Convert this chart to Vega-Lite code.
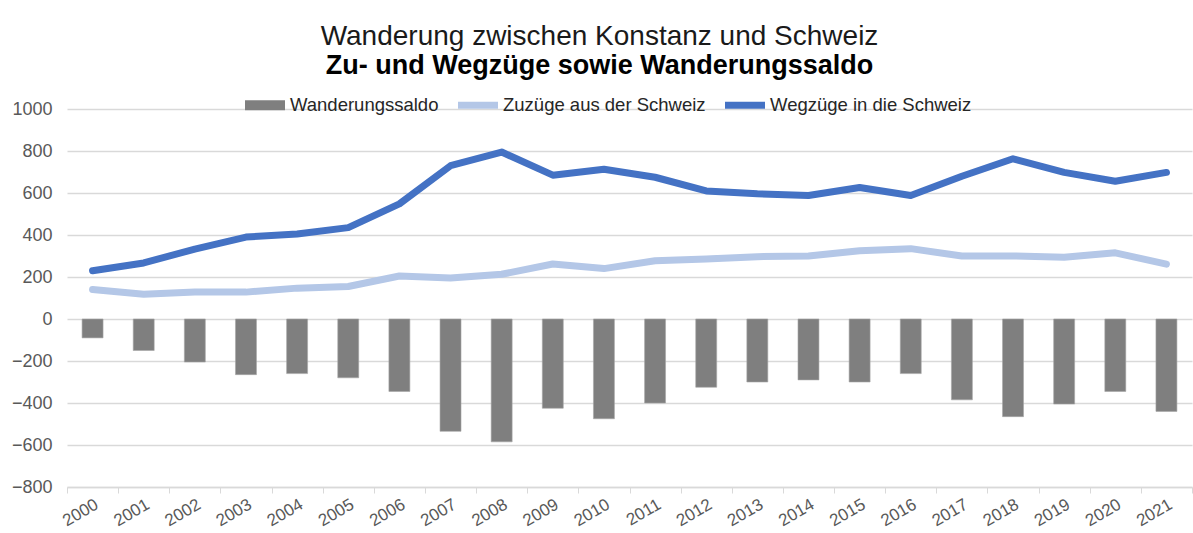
{
  "$schema": "https://vega.github.io/schema/vega-lite/v6.json",
  "width": 1125,
  "height": 378,
  "autosize": "none",
  "padding": {"left": 67, "top": 109, "right": 1, "bottom": 46},
  "background": "white",
  "config": {
    "font": "Liberation Sans",
    "view": {"stroke": null},
    "axis": {"labelFont": "Liberation Sans", "labelColor": "#595959", "labelFontSize": 18, "gridColor": "#d9d9d9", "gridWidth": 1.3, "domainColor": "#d9d9d9", "tickColor": "#d9d9d9", "title": null}
  },
  "title": {
    "text": "Wanderung zwischen Konstanz und Schweiz",
    "subtitle": "Zu- und Wegzüge sowie Wanderungssaldo",
    "anchor": "middle",
    "frame": "group",
    "dx": -30,
    "offset": 6,
    "font": "Liberation Sans",
    "fontSize": 28,
    "fontWeight": "normal",
    "color": "#1a1a1a",
    "subtitleFont": "Liberation Sans",
    "subtitleFontSize": 27,
    "subtitleFontWeight": "bold",
    "subtitleColor": "#000000",
    "subtitlePadding": 2
  },
  "data": {
    "values": [
      {"Jahr": "2000", "Reihe": "Wanderungssaldo", "Wert": -90},
      {"Jahr": "2001", "Reihe": "Wanderungssaldo", "Wert": -150},
      {"Jahr": "2002", "Reihe": "Wanderungssaldo", "Wert": -205},
      {"Jahr": "2003", "Reihe": "Wanderungssaldo", "Wert": -265},
      {"Jahr": "2004", "Reihe": "Wanderungssaldo", "Wert": -260},
      {"Jahr": "2005", "Reihe": "Wanderungssaldo", "Wert": -280},
      {"Jahr": "2006", "Reihe": "Wanderungssaldo", "Wert": -345},
      {"Jahr": "2007", "Reihe": "Wanderungssaldo", "Wert": -535},
      {"Jahr": "2008", "Reihe": "Wanderungssaldo", "Wert": -585},
      {"Jahr": "2009", "Reihe": "Wanderungssaldo", "Wert": -425},
      {"Jahr": "2010", "Reihe": "Wanderungssaldo", "Wert": -475},
      {"Jahr": "2011", "Reihe": "Wanderungssaldo", "Wert": -400},
      {"Jahr": "2012", "Reihe": "Wanderungssaldo", "Wert": -325},
      {"Jahr": "2013", "Reihe": "Wanderungssaldo", "Wert": -300},
      {"Jahr": "2014", "Reihe": "Wanderungssaldo", "Wert": -290},
      {"Jahr": "2015", "Reihe": "Wanderungssaldo", "Wert": -300},
      {"Jahr": "2016", "Reihe": "Wanderungssaldo", "Wert": -260},
      {"Jahr": "2017", "Reihe": "Wanderungssaldo", "Wert": -385},
      {"Jahr": "2018", "Reihe": "Wanderungssaldo", "Wert": -465},
      {"Jahr": "2019", "Reihe": "Wanderungssaldo", "Wert": -405},
      {"Jahr": "2020", "Reihe": "Wanderungssaldo", "Wert": -345},
      {"Jahr": "2021", "Reihe": "Wanderungssaldo", "Wert": -440},
      {"Jahr": "2000", "Reihe": "Zuzüge aus der Schweiz", "Wert": 140},
      {"Jahr": "2001", "Reihe": "Zuzüge aus der Schweiz", "Wert": 118},
      {"Jahr": "2002", "Reihe": "Zuzüge aus der Schweiz", "Wert": 128},
      {"Jahr": "2003", "Reihe": "Zuzüge aus der Schweiz", "Wert": 128},
      {"Jahr": "2004", "Reihe": "Zuzüge aus der Schweiz", "Wert": 147},
      {"Jahr": "2005", "Reihe": "Zuzüge aus der Schweiz", "Wert": 155},
      {"Jahr": "2006", "Reihe": "Zuzüge aus der Schweiz", "Wert": 205},
      {"Jahr": "2007", "Reihe": "Zuzüge aus der Schweiz", "Wert": 195},
      {"Jahr": "2008", "Reihe": "Zuzüge aus der Schweiz", "Wert": 213},
      {"Jahr": "2009", "Reihe": "Zuzüge aus der Schweiz", "Wert": 262},
      {"Jahr": "2010", "Reihe": "Zuzüge aus der Schweiz", "Wert": 240},
      {"Jahr": "2011", "Reihe": "Zuzüge aus der Schweiz", "Wert": 277},
      {"Jahr": "2012", "Reihe": "Zuzüge aus der Schweiz", "Wert": 286},
      {"Jahr": "2013", "Reihe": "Zuzüge aus der Schweiz", "Wert": 297},
      {"Jahr": "2014", "Reihe": "Zuzüge aus der Schweiz", "Wert": 300},
      {"Jahr": "2015", "Reihe": "Zuzüge aus der Schweiz", "Wert": 325},
      {"Jahr": "2016", "Reihe": "Zuzüge aus der Schweiz", "Wert": 335},
      {"Jahr": "2017", "Reihe": "Zuzüge aus der Schweiz", "Wert": 300},
      {"Jahr": "2018", "Reihe": "Zuzüge aus der Schweiz", "Wert": 300},
      {"Jahr": "2019", "Reihe": "Zuzüge aus der Schweiz", "Wert": 294},
      {"Jahr": "2020", "Reihe": "Zuzüge aus der Schweiz", "Wert": 315},
      {"Jahr": "2021", "Reihe": "Zuzüge aus der Schweiz", "Wert": 261},
      {"Jahr": "2000", "Reihe": "Wegzüge in die Schweiz", "Wert": 230},
      {"Jahr": "2001", "Reihe": "Wegzüge in die Schweiz", "Wert": 267},
      {"Jahr": "2002", "Reihe": "Wegzüge in die Schweiz", "Wert": 333},
      {"Jahr": "2003", "Reihe": "Wegzüge in die Schweiz", "Wert": 390},
      {"Jahr": "2004", "Reihe": "Wegzüge in die Schweiz", "Wert": 405},
      {"Jahr": "2005", "Reihe": "Wegzüge in die Schweiz", "Wert": 435},
      {"Jahr": "2006", "Reihe": "Wegzüge in die Schweiz", "Wert": 548},
      {"Jahr": "2007", "Reihe": "Wegzüge in die Schweiz", "Wert": 730},
      {"Jahr": "2008", "Reihe": "Wegzüge in die Schweiz", "Wert": 795},
      {"Jahr": "2009", "Reihe": "Wegzüge in die Schweiz", "Wert": 685},
      {"Jahr": "2010", "Reihe": "Wegzüge in die Schweiz", "Wert": 713},
      {"Jahr": "2011", "Reihe": "Wegzüge in die Schweiz", "Wert": 675},
      {"Jahr": "2012", "Reihe": "Wegzüge in die Schweiz", "Wert": 610},
      {"Jahr": "2013", "Reihe": "Wegzüge in die Schweiz", "Wert": 596},
      {"Jahr": "2014", "Reihe": "Wegzüge in die Schweiz", "Wert": 588},
      {"Jahr": "2015", "Reihe": "Wegzüge in die Schweiz", "Wert": 626},
      {"Jahr": "2016", "Reihe": "Wegzüge in die Schweiz", "Wert": 588},
      {"Jahr": "2017", "Reihe": "Wegzüge in die Schweiz", "Wert": 680},
      {"Jahr": "2018", "Reihe": "Wegzüge in die Schweiz", "Wert": 763},
      {"Jahr": "2019", "Reihe": "Wegzüge in die Schweiz", "Wert": 698},
      {"Jahr": "2020", "Reihe": "Wegzüge in die Schweiz", "Wert": 656},
      {"Jahr": "2021", "Reihe": "Wegzüge in die Schweiz", "Wert": 698}
    ]
  },
  "encoding": {
    "x": {
      "field": "Jahr",
      "type": "ordinal",
      "scale": {"paddingInner": 0, "paddingOuter": 0},
      "axis": {"labelAngle": -30, "tickBand": "extent", "tickSize": 6, "labelPadding": 3, "labelFontSize": 17, "domainWidth": 1.3}
    },
    "y": {
      "field": "Wert",
      "type": "quantitative",
      "scale": {"domain": [-800, 1000], "nice": false, "zero": false},
      "axis": {"values": [-800, -600, -400, -200, 0, 200, 400, 600, 800, 1000], "format": "d", "domain": false, "ticks": false, "labelPadding": 15}
    },
    "color": {
      "field": "Reihe",
      "type": "nominal",
      "scale": {
        "domain": ["Wanderungssaldo", "Zuzüge aus der Schweiz", "Wegzüge in die Schweiz"],
        "range": ["#7f7f7f", "#b4c7e7", "#4472c4"]
      },
      "legend": {
        "title": null,
        "orient": "none",
        "direction": "horizontal",
        "legendX": 178,
        "legendY": -24,
        "labelFont": "Liberation Sans",
        "labelFontSize": 18.5,
        "labelColor": "#262626",
        "labelOffset": 5,
        "columnPadding": 19,
        "symbolSize": 1600,
        "labelLimit": 0,
        "encode": {
          "symbols": {
            "update": {
              "shape": {"signal": "datum.value === 'Wanderungssaldo' ? 'M-1,-0.25H1V0.25H-1Z' : 'M-1,-0.17H1V0.17H-1Z'"},
              "fill": {"signal": "scale('color', datum.value)"},
              "stroke": {"value": "transparent"},
              "strokeWidth": {"value": 0},
              "opacity": {"value": 1},
              "fillOpacity": {"value": 1}
            }
          }
        }
      }
    }
  },
  "layer": [
    {
      "transform": [{"filter": "datum.Reihe === 'Wanderungssaldo'"}],
      "mark": {"type": "bar", "width": {"band": 0.41}, "stroke": "#a6a6a6", "strokeWidth": 0.6},
      "encoding": {"y2": {"datum": 0}}
    },
    {
      "transform": [{"filter": "datum.Reihe !== 'Wanderungssaldo'"}],
      "mark": {"type": "line", "strokeWidth": 7, "strokeJoin": "round", "strokeCap": "round"}
    }
  ]
}
